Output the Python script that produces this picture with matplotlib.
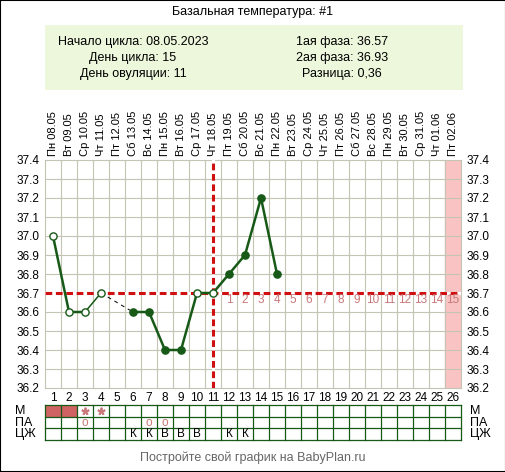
import numpy as np
import matplotlib
matplotlib.use('Agg')
import matplotlib.pyplot as plt
import matplotlib.transforms as mtransforms
from matplotlib.patches import Rectangle

plt.rcParams['font.family'] = ['Liberation Sans', 'DejaVu Sans']

W, H = 506, 472

# ── данные ───────────────────────────────────────────────────────
days = list(range(1, 27))
dates = ['Пн 08.05', 'Вт 09.05', 'Ср 10.05', 'Чт 11.05', 'Пт 12.05', 'Сб 13.05',
         'Вс 14.05', 'Пн 15.05', 'Вт 16.05', 'Ср 17.05', 'Чт 18.05', 'Пт 19.05',
         'Сб 20.05', 'Вс 21.05', 'Пн 22.05', 'Вт 23.05', 'Ср 24.05', 'Чт 25.05',
         'Пт 26.05', 'Сб 27.05', 'Вс 28.05', 'Пн 29.05', 'Вт 30.05', 'Ср 31.05',
         'Чт 01.06', 'Пт 02.06']
temp_days = [1, 2, 3, 4, 6, 7, 8, 9, 10, 11, 12, 13, 14, 15]
temps     = [37.0, 36.6, 36.6, 36.7, 36.6, 36.6, 36.4, 36.4, 36.7, 36.7, 36.8, 36.9, 37.2, 36.8]
open_days = [1, 2, 3, 4, 10, 11]
gap = (4, 6)                 # пропуск дня 5 — пунктир
ovul_day = 11
cover_line = 36.7
today_day = 26
phase2_labels = [str(i) for i in range(1, 16)]
phase2_days = list(range(12, 27))

m_days = [1, 2]
m_star_days = [3, 4]
pa_days = [3, 7, 8]
cm_days = [6, 7, 8, 9, 10, 12, 13]
cm_marks = ['К', 'К', 'В', 'В', 'В', 'К', 'К']

title = 'Базальная температура: #1'
info_left = ['Начало цикла: 08.05.2023', 'День цикла: 15', 'День овуляции: 11']
info_right = ['1ая фаза: 36.57', '2ая фаза: 36.93', 'Разница: 0,36']
footer = 'Постройте свой график на BabyPlan.ru'

GREEN = '#175a17'
RED = '#d01010'
PINK_TXT = '#c87878'
GRID = '#c4c4b4'

def fx(x): return x / W
def fy(y): return 1 - y / H

fig = plt.figure(figsize=(W / 100, H / 100), dpi=100)
fig.patch.set_facecolor('white')

# рамка и заголовок
fig.patches.append(Rectangle((0, 0), 1, 1, transform=fig.transFigure,
                             fill=False, edgecolor='black', lw=1.5))
fig.text(fx(253), fy(12), title, ha='center', va='center', fontsize=9)
fig.patches.append(Rectangle((fx(45), fy(90)), fx(463) - fx(45), fy(25) - fy(90),
                             transform=fig.transFigure, facecolor='#edf7dc',
                             edgecolor='none'))
for i, (l, r) in enumerate(zip(info_left, info_right)):
    fig.text(fx(133), fy(42 + 16 * i), l, ha='center', va='center', fontsize=9)
    fig.text(fx(342), fy(42 + 16 * i), r, ha='center', va='center', fontsize=9)

# ── основной график ──────────────────────────────────────────────
ax = fig.add_axes([fx(45), fy(388), fx(461) - fx(45), fy(160) - fy(388)])
ax.set_xlim(0.5, 26.5)
ax.set_ylim(36.2, 37.4)
ax.axvspan(today_day - 0.5, today_day + 0.5, color='#f9c3c3', zorder=0)
for xv in np.arange(1.5, 26.5, 1):
    ax.axvline(xv, color=GRID, lw=0.8, zorder=1)
for yv in np.arange(36.3, 37.35, 0.1):
    ax.axhline(yv, color=GRID, lw=0.8, zorder=1)
for s in ax.spines.values():
    s.set_color(GRID)
    s.set_linewidth(0.8)

yt = np.round(np.arange(36.2, 37.45, 0.1), 1)
ax.set_yticks(yt)
ax.set_yticklabels([f'{v:.1f}' for v in yt])
ax.set_xticks(days)
ax.set_xticklabels([str(d) for d in days])
ax.tick_params(axis='both', length=0, labelsize=8.5, colors='black')
ax.tick_params(axis='y', labelright=True, pad=4)
ax.tick_params(axis='x', pad=3)

trans = mtransforms.blended_transform_factory(ax.transData, ax.transAxes)
for d, lab in zip(days, dates):
    ax.text(d, 1 + 4 / 228, lab, transform=trans, rotation=90,
            ha='center', va='bottom', fontsize=8)

# линии овуляции и покровная
ax.axhline(cover_line, color='white', lw=2.2, zorder=3)
ax.axhline(cover_line, color=RED, lw=2.2, ls=(0, (2.2, 1.2)), zorder=3)
ax.axvline(ovul_day, color='white', lw=2.2, zorder=3)
ax.axvline(ovul_day, color=RED, lw=2.2, ls=(0, (2.2, 1.2)), zorder=3)

for lab, d in zip(phase2_labels, phase2_days):
    ax.text(d, 36.665, lab, ha='center', va='center', fontsize=8.5,
            color=PINK_TXT, zorder=4)

# температура
t = dict(zip(temp_days, temps))
seg1 = [d for d in temp_days if d <= gap[0]]
seg2 = [d for d in temp_days if d >= gap[1]]
ax.plot(seg1[:3], [t[d] for d in seg1[:3]], color=GREEN, lw=1.8, zorder=5)
ax.plot(seg1[2:], [t[d] for d in seg1[2:]], color=GREEN, lw=1.1, zorder=5)
ax.plot(seg2, [t[d] for d in seg2], color=GREEN, lw=1.8, zorder=5)
ax.plot(gap, [t[gap[0]], t[gap[1]]], color='black', lw=0.7,
        ls=(0, (4, 4)), zorder=4)
for d in temp_days:
    face = 'white' if d in open_days else GREEN
    ax.plot(d, t[d], 'o', ms=5.2, mfc=face, mec=GREEN, mew=1.0, zorder=6)

# ── таблица ──────────────────────────────────────────────────────
tb = fig.add_axes([fx(45), fy(440), fx(461) - fx(45), fy(405) - fy(440)])
tb.set_xlim(0.5, 26.5)
tb.set_ylim(0, 3)
tb.axis('off')
tb.bar(m_days, 1, bottom=2, width=1, color='#cf6262', zorder=1)
for xv in np.arange(0.5, 27, 1):
    tb.plot([xv, xv], [0, 3], color=GREEN, lw=0.9, zorder=2, clip_on=False)
for yv in range(4):
    tb.plot([0.5, 26.5], [yv, yv], color=GREEN, lw=0.9, zorder=2, clip_on=False)
# звёздочки — маркером, чтобы не налезали на строку ПА
tb.plot(m_star_days, [2.5] * len(m_star_days), ls='none', marker=(5, 2, 0),
        ms=5.5, mew=1.3, color=PINK_TXT, zorder=3)
for d in pa_days:
    tb.text(d, 1.45, 'o', ha='center', va='center', fontsize=8.5, color=PINK_TXT)
for d, m in zip(cm_days, cm_marks):
    tb.text(d, 0.5, m, ha='center', va='center', fontsize=8.5)

for i, lab in enumerate(['М', 'ПА', 'ЦЖ']):
    yy = 411 + 11.7 * i
    fig.text(fx(15), fy(yy), lab, ha='left', va='center', fontsize=9)
    fig.text(fx(470), fy(yy), lab, ha='left', va='center', fontsize=9)

fig.text(fx(253), fy(458), footer, ha='center', va='center', fontsize=9,
         color='#666666')

fig.savefig('out.png', dpi=100)
